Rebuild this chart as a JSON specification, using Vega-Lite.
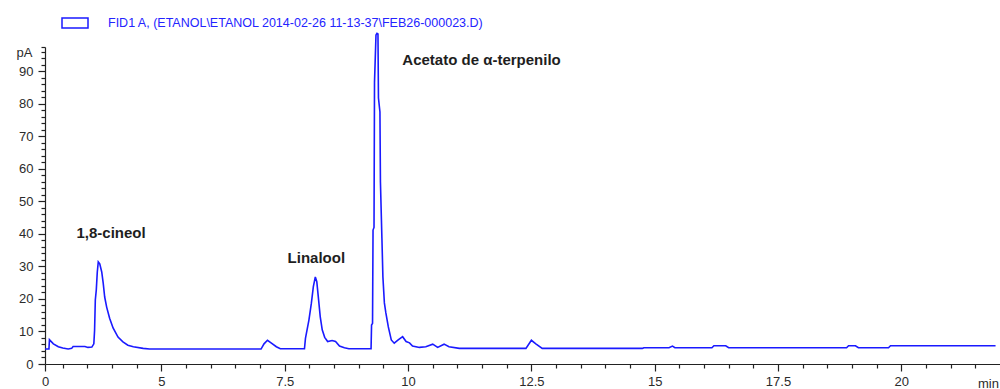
{
  "$schema": "https://vega.github.io/schema/vega-lite/v6.json",
  "width": 955,
  "height": 317,
  "autosize": {"type": "none"},
  "padding": {"left": 45, "top": 47, "right": 0, "bottom": 25},
  "background": "white",
  "config": {"view": {"stroke": null}, "font": "Liberation Sans"},
  "datasets": {
    "trace": [
      {"series": "FID1 A,  (ETANOL\\ETANOL 2014-02-26 11-13-37\\FEB26-000023.D)", "t": 2.64, "pA": 4.6},
      {"series": "FID1 A,  (ETANOL\\ETANOL 2014-02-26 11-13-37\\FEB26-000023.D)", "t": 2.72, "pA": 4.6},
      {"series": "FID1 A,  (ETANOL\\ETANOL 2014-02-26 11-13-37\\FEB26-000023.D)", "t": 2.73, "pA": 7.5},
      {"series": "FID1 A,  (ETANOL\\ETANOL 2014-02-26 11-13-37\\FEB26-000023.D)", "t": 2.81, "pA": 6.2},
      {"series": "FID1 A,  (ETANOL\\ETANOL 2014-02-26 11-13-37\\FEB26-000023.D)", "t": 2.91, "pA": 5.3},
      {"series": "FID1 A,  (ETANOL\\ETANOL 2014-02-26 11-13-37\\FEB26-000023.D)", "t": 3.0, "pA": 4.9},
      {"series": "FID1 A,  (ETANOL\\ETANOL 2014-02-26 11-13-37\\FEB26-000023.D)", "t": 3.11, "pA": 4.6},
      {"series": "FID1 A,  (ETANOL\\ETANOL 2014-02-26 11-13-37\\FEB26-000023.D)", "t": 3.18, "pA": 4.8},
      {"series": "FID1 A,  (ETANOL\\ETANOL 2014-02-26 11-13-37\\FEB26-000023.D)", "t": 3.21, "pA": 5.4},
      {"series": "FID1 A,  (ETANOL\\ETANOL 2014-02-26 11-13-37\\FEB26-000023.D)", "t": 3.45, "pA": 5.4},
      {"series": "FID1 A,  (ETANOL\\ETANOL 2014-02-26 11-13-37\\FEB26-000023.D)", "t": 3.51, "pA": 5.1},
      {"series": "FID1 A,  (ETANOL\\ETANOL 2014-02-26 11-13-37\\FEB26-000023.D)", "t": 3.59, "pA": 5.2},
      {"series": "FID1 A,  (ETANOL\\ETANOL 2014-02-26 11-13-37\\FEB26-000023.D)", "t": 3.63, "pA": 6.2},
      {"series": "FID1 A,  (ETANOL\\ETANOL 2014-02-26 11-13-37\\FEB26-000023.D)", "t": 3.645, "pA": 10.3},
      {"series": "FID1 A,  (ETANOL\\ETANOL 2014-02-26 11-13-37\\FEB26-000023.D)", "t": 3.66, "pA": 19.7},
      {"series": "FID1 A,  (ETANOL\\ETANOL 2014-02-26 11-13-37\\FEB26-000023.D)", "t": 3.68, "pA": 22.8},
      {"series": "FID1 A,  (ETANOL\\ETANOL 2014-02-26 11-13-37\\FEB26-000023.D)", "t": 3.7, "pA": 28.3},
      {"series": "FID1 A,  (ETANOL\\ETANOL 2014-02-26 11-13-37\\FEB26-000023.D)", "t": 3.72, "pA": 31.4},
      {"series": "FID1 A,  (ETANOL\\ETANOL 2014-02-26 11-13-37\\FEB26-000023.D)", "t": 3.75, "pA": 30.8},
      {"series": "FID1 A,  (ETANOL\\ETANOL 2014-02-26 11-13-37\\FEB26-000023.D)", "t": 3.79, "pA": 28.3},
      {"series": "FID1 A,  (ETANOL\\ETANOL 2014-02-26 11-13-37\\FEB26-000023.D)", "t": 3.82, "pA": 24.9},
      {"series": "FID1 A,  (ETANOL\\ETANOL 2014-02-26 11-13-37\\FEB26-000023.D)", "t": 3.85, "pA": 20.6},
      {"series": "FID1 A,  (ETANOL\\ETANOL 2014-02-26 11-13-37\\FEB26-000023.D)", "t": 3.89, "pA": 17.5},
      {"series": "FID1 A,  (ETANOL\\ETANOL 2014-02-26 11-13-37\\FEB26-000023.D)", "t": 3.95, "pA": 14.1},
      {"series": "FID1 A,  (ETANOL\\ETANOL 2014-02-26 11-13-37\\FEB26-000023.D)", "t": 4.02, "pA": 11.1},
      {"series": "FID1 A,  (ETANOL\\ETANOL 2014-02-26 11-13-37\\FEB26-000023.D)", "t": 4.12, "pA": 8.3},
      {"series": "FID1 A,  (ETANOL\\ETANOL 2014-02-26 11-13-37\\FEB26-000023.D)", "t": 4.22, "pA": 6.8},
      {"series": "FID1 A,  (ETANOL\\ETANOL 2014-02-26 11-13-37\\FEB26-000023.D)", "t": 4.32, "pA": 5.8},
      {"series": "FID1 A,  (ETANOL\\ETANOL 2014-02-26 11-13-37\\FEB26-000023.D)", "t": 4.43, "pA": 5.3},
      {"series": "FID1 A,  (ETANOL\\ETANOL 2014-02-26 11-13-37\\FEB26-000023.D)", "t": 4.63, "pA": 4.8},
      {"series": "FID1 A,  (ETANOL\\ETANOL 2014-02-26 11-13-37\\FEB26-000023.D)", "t": 4.76, "pA": 4.6},
      {"series": "FID1 A,  (ETANOL\\ETANOL 2014-02-26 11-13-37\\FEB26-000023.D)", "t": 7.02, "pA": 4.6},
      {"series": "FID1 A,  (ETANOL\\ETANOL 2014-02-26 11-13-37\\FEB26-000023.D)", "t": 7.08, "pA": 6.2},
      {"series": "FID1 A,  (ETANOL\\ETANOL 2014-02-26 11-13-37\\FEB26-000023.D)", "t": 7.15, "pA": 7.3},
      {"series": "FID1 A,  (ETANOL\\ETANOL 2014-02-26 11-13-37\\FEB26-000023.D)", "t": 7.23, "pA": 6.4},
      {"series": "FID1 A,  (ETANOL\\ETANOL 2014-02-26 11-13-37\\FEB26-000023.D)", "t": 7.33, "pA": 5.3},
      {"series": "FID1 A,  (ETANOL\\ETANOL 2014-02-26 11-13-37\\FEB26-000023.D)", "t": 7.41, "pA": 4.7},
      {"series": "FID1 A,  (ETANOL\\ETANOL 2014-02-26 11-13-37\\FEB26-000023.D)", "t": 7.9, "pA": 4.7},
      {"series": "FID1 A,  (ETANOL\\ETANOL 2014-02-26 11-13-37\\FEB26-000023.D)", "t": 7.92, "pA": 7.9},
      {"series": "FID1 A,  (ETANOL\\ETANOL 2014-02-26 11-13-37\\FEB26-000023.D)", "t": 7.99, "pA": 13.5},
      {"series": "FID1 A,  (ETANOL\\ETANOL 2014-02-26 11-13-37\\FEB26-000023.D)", "t": 8.04, "pA": 18.7},
      {"series": "FID1 A,  (ETANOL\\ETANOL 2014-02-26 11-13-37\\FEB26-000023.D)", "t": 8.08, "pA": 23.8},
      {"series": "FID1 A,  (ETANOL\\ETANOL 2014-02-26 11-13-37\\FEB26-000023.D)", "t": 8.12, "pA": 26.8},
      {"series": "FID1 A,  (ETANOL\\ETANOL 2014-02-26 11-13-37\\FEB26-000023.D)", "t": 8.15, "pA": 25.3},
      {"series": "FID1 A,  (ETANOL\\ETANOL 2014-02-26 11-13-37\\FEB26-000023.D)", "t": 8.18, "pA": 20.7},
      {"series": "FID1 A,  (ETANOL\\ETANOL 2014-02-26 11-13-37\\FEB26-000023.D)", "t": 8.22, "pA": 14.5},
      {"series": "FID1 A,  (ETANOL\\ETANOL 2014-02-26 11-13-37\\FEB26-000023.D)", "t": 8.26, "pA": 10.5},
      {"series": "FID1 A,  (ETANOL\\ETANOL 2014-02-26 11-13-37\\FEB26-000023.D)", "t": 8.31, "pA": 8.2},
      {"series": "FID1 A,  (ETANOL\\ETANOL 2014-02-26 11-13-37\\FEB26-000023.D)", "t": 8.37, "pA": 6.9},
      {"series": "FID1 A,  (ETANOL\\ETANOL 2014-02-26 11-13-37\\FEB26-000023.D)", "t": 8.46, "pA": 7.2},
      {"series": "FID1 A,  (ETANOL\\ETANOL 2014-02-26 11-13-37\\FEB26-000023.D)", "t": 8.53, "pA": 6.9},
      {"series": "FID1 A,  (ETANOL\\ETANOL 2014-02-26 11-13-37\\FEB26-000023.D)", "t": 8.61, "pA": 5.5},
      {"series": "FID1 A,  (ETANOL\\ETANOL 2014-02-26 11-13-37\\FEB26-000023.D)", "t": 8.71, "pA": 5.0},
      {"series": "FID1 A,  (ETANOL\\ETANOL 2014-02-26 11-13-37\\FEB26-000023.D)", "t": 8.8, "pA": 4.7},
      {"series": "FID1 A,  (ETANOL\\ETANOL 2014-02-26 11-13-37\\FEB26-000023.D)", "t": 9.25, "pA": 4.7},
      {"series": "FID1 A,  (ETANOL\\ETANOL 2014-02-26 11-13-37\\FEB26-000023.D)", "t": 9.26, "pA": 12.0},
      {"series": "FID1 A,  (ETANOL\\ETANOL 2014-02-26 11-13-37\\FEB26-000023.D)", "t": 9.28, "pA": 12.5},
      {"series": "FID1 A,  (ETANOL\\ETANOL 2014-02-26 11-13-37\\FEB26-000023.D)", "t": 9.29, "pA": 41.2},
      {"series": "FID1 A,  (ETANOL\\ETANOL 2014-02-26 11-13-37\\FEB26-000023.D)", "t": 9.31, "pA": 42.0},
      {"series": "FID1 A,  (ETANOL\\ETANOL 2014-02-26 11-13-37\\FEB26-000023.D)", "t": 9.32, "pA": 86.7},
      {"series": "FID1 A,  (ETANOL\\ETANOL 2014-02-26 11-13-37\\FEB26-000023.D)", "t": 9.35, "pA": 101.2},
      {"series": "FID1 A,  (ETANOL\\ETANOL 2014-02-26 11-13-37\\FEB26-000023.D)", "t": 9.37, "pA": 101.7},
      {"series": "FID1 A,  (ETANOL\\ETANOL 2014-02-26 11-13-37\\FEB26-000023.D)", "t": 9.39, "pA": 101.5},
      {"series": "FID1 A,  (ETANOL\\ETANOL 2014-02-26 11-13-37\\FEB26-000023.D)", "t": 9.4, "pA": 81.8},
      {"series": "FID1 A,  (ETANOL\\ETANOL 2014-02-26 11-13-37\\FEB26-000023.D)", "t": 9.43, "pA": 77.5},
      {"series": "FID1 A,  (ETANOL\\ETANOL 2014-02-26 11-13-37\\FEB26-000023.D)", "t": 9.44, "pA": 56.0},
      {"series": "FID1 A,  (ETANOL\\ETANOL 2014-02-26 11-13-37\\FEB26-000023.D)", "t": 9.47, "pA": 38.7},
      {"series": "FID1 A,  (ETANOL\\ETANOL 2014-02-26 11-13-37\\FEB26-000023.D)", "t": 9.49, "pA": 26.8},
      {"series": "FID1 A,  (ETANOL\\ETANOL 2014-02-26 11-13-37\\FEB26-000023.D)", "t": 9.52, "pA": 18.8},
      {"series": "FID1 A,  (ETANOL\\ETANOL 2014-02-26 11-13-37\\FEB26-000023.D)", "t": 9.55, "pA": 15.7},
      {"series": "FID1 A,  (ETANOL\\ETANOL 2014-02-26 11-13-37\\FEB26-000023.D)", "t": 9.6, "pA": 11.4},
      {"series": "FID1 A,  (ETANOL\\ETANOL 2014-02-26 11-13-37\\FEB26-000023.D)", "t": 9.66, "pA": 7.4},
      {"series": "FID1 A,  (ETANOL\\ETANOL 2014-02-26 11-13-37\\FEB26-000023.D)", "t": 9.72, "pA": 6.4},
      {"series": "FID1 A,  (ETANOL\\ETANOL 2014-02-26 11-13-37\\FEB26-000023.D)", "t": 9.8, "pA": 7.4},
      {"series": "FID1 A,  (ETANOL\\ETANOL 2014-02-26 11-13-37\\FEB26-000023.D)", "t": 9.89, "pA": 8.4},
      {"series": "FID1 A,  (ETANOL\\ETANOL 2014-02-26 11-13-37\\FEB26-000023.D)", "t": 9.96, "pA": 6.9},
      {"series": "FID1 A,  (ETANOL\\ETANOL 2014-02-26 11-13-37\\FEB26-000023.D)", "t": 10.03, "pA": 6.5},
      {"series": "FID1 A,  (ETANOL\\ETANOL 2014-02-26 11-13-37\\FEB26-000023.D)", "t": 10.09, "pA": 5.5},
      {"series": "FID1 A,  (ETANOL\\ETANOL 2014-02-26 11-13-37\\FEB26-000023.D)", "t": 10.23, "pA": 5.1},
      {"series": "FID1 A,  (ETANOL\\ETANOL 2014-02-26 11-13-37\\FEB26-000023.D)", "t": 10.36, "pA": 5.3},
      {"series": "FID1 A,  (ETANOL\\ETANOL 2014-02-26 11-13-37\\FEB26-000023.D)", "t": 10.5, "pA": 6.1},
      {"series": "FID1 A,  (ETANOL\\ETANOL 2014-02-26 11-13-37\\FEB26-000023.D)", "t": 10.6, "pA": 5.1},
      {"series": "FID1 A,  (ETANOL\\ETANOL 2014-02-26 11-13-37\\FEB26-000023.D)", "t": 10.73, "pA": 6.1},
      {"series": "FID1 A,  (ETANOL\\ETANOL 2014-02-26 11-13-37\\FEB26-000023.D)", "t": 10.83, "pA": 5.3},
      {"series": "FID1 A,  (ETANOL\\ETANOL 2014-02-26 11-13-37\\FEB26-000023.D)", "t": 11.04, "pA": 4.8},
      {"series": "FID1 A,  (ETANOL\\ETANOL 2014-02-26 11-13-37\\FEB26-000023.D)", "t": 12.39, "pA": 4.8},
      {"series": "FID1 A,  (ETANOL\\ETANOL 2014-02-26 11-13-37\\FEB26-000023.D)", "t": 12.5, "pA": 7.3},
      {"series": "FID1 A,  (ETANOL\\ETANOL 2014-02-26 11-13-37\\FEB26-000023.D)", "t": 12.59, "pA": 6.2},
      {"series": "FID1 A,  (ETANOL\\ETANOL 2014-02-26 11-13-37\\FEB26-000023.D)", "t": 12.72, "pA": 4.8},
      {"series": "FID1 A,  (ETANOL\\ETANOL 2014-02-26 11-13-37\\FEB26-000023.D)", "t": 14.75, "pA": 4.8},
      {"series": "FID1 A,  (ETANOL\\ETANOL 2014-02-26 11-13-37\\FEB26-000023.D)", "t": 14.78, "pA": 5.0},
      {"series": "FID1 A,  (ETANOL\\ETANOL 2014-02-26 11-13-37\\FEB26-000023.D)", "t": 15.29, "pA": 5.0},
      {"series": "FID1 A,  (ETANOL\\ETANOL 2014-02-26 11-13-37\\FEB26-000023.D)", "t": 15.36, "pA": 5.5},
      {"series": "FID1 A,  (ETANOL\\ETANOL 2014-02-26 11-13-37\\FEB26-000023.D)", "t": 15.41, "pA": 5.0},
      {"series": "FID1 A,  (ETANOL\\ETANOL 2014-02-26 11-13-37\\FEB26-000023.D)", "t": 16.16, "pA": 5.0},
      {"series": "FID1 A,  (ETANOL\\ETANOL 2014-02-26 11-13-37\\FEB26-000023.D)", "t": 16.2, "pA": 5.6},
      {"series": "FID1 A,  (ETANOL\\ETANOL 2014-02-26 11-13-37\\FEB26-000023.D)", "t": 16.44, "pA": 5.6},
      {"series": "FID1 A,  (ETANOL\\ETANOL 2014-02-26 11-13-37\\FEB26-000023.D)", "t": 16.5, "pA": 5.0},
      {"series": "FID1 A,  (ETANOL\\ETANOL 2014-02-26 11-13-37\\FEB26-000023.D)", "t": 18.89, "pA": 5.0},
      {"series": "FID1 A,  (ETANOL\\ETANOL 2014-02-26 11-13-37\\FEB26-000023.D)", "t": 18.93, "pA": 5.6},
      {"series": "FID1 A,  (ETANOL\\ETANOL 2014-02-26 11-13-37\\FEB26-000023.D)", "t": 19.07, "pA": 5.6},
      {"series": "FID1 A,  (ETANOL\\ETANOL 2014-02-26 11-13-37\\FEB26-000023.D)", "t": 19.13, "pA": 5.0},
      {"series": "FID1 A,  (ETANOL\\ETANOL 2014-02-26 11-13-37\\FEB26-000023.D)", "t": 19.74, "pA": 5.0},
      {"series": "FID1 A,  (ETANOL\\ETANOL 2014-02-26 11-13-37\\FEB26-000023.D)", "t": 19.78, "pA": 5.6},
      {"series": "FID1 A,  (ETANOL\\ETANOL 2014-02-26 11-13-37\\FEB26-000023.D)", "t": 21.91, "pA": 5.6}
    ],
    "labels": [
      {"label": "1,8-cineol", "t": 3.98, "pA": 40.3},
      {"label": "Linalool", "t": 8.14, "pA": 32.5},
      {"label": "Acetato de α-terpenilo", "t": 11.49, "pA": 93.5}
    ]
  },
  "resolve": {"axis": {"x": "independent", "y": "independent"}},
  "layer": [
    {
      "data": {"name": "trace"},
      "mark": {"type": "line", "strokeWidth": 1.6, "clip": false},
      "encoding": {
        "x": {
          "field": "t",
          "type": "quantitative",
          "scale": {"domain": [2.64, 22], "nice": false, "zero": false},
          "axis": {
            "orient": "bottom",
            "values": [2.64, 5, 7.5, 10, 12.5, 15, 17.5, 20],
            "labelExpr": "datum.value < 2.7 ? '0' : toString(datum.value)",
            "tickSize": 7,
            "labelPadding": 4,
            "labelFlush": false,
            "labelOverlap": false,
            "grid": false,
            "domainColor": "#222222",
            "tickColor": "#222222",
            "domainWidth": 1.2,
            "tickWidth": 1.2,
            "labelColor": "#2b2b2b",
            "labelFontSize": 13,
            "labelFont": "Liberation Sans",
            "title": "min",
            "titleX": 943,
            "titleY": 19,
            "titleAlign": "center",
            "titleBaseline": "middle",
            "titleFontWeight": "normal",
            "titleFontSize": 13,
            "titleFont": "Liberation Sans",
            "titleColor": "#2b2b2b"
          }
        },
        "y": {
          "field": "pA",
          "type": "quantitative",
          "scale": {"domain": [0, 97.5], "nice": false, "zero": true},
          "axis": {
            "orient": "left",
            "values": [0, 10, 20, 30, 40, 50, 60, 70, 80, 90],
            "labelExpr": "toString(datum.value)",
            "tickSize": 7,
            "labelPadding": 5,
            "labelOverlap": false,
            "labelFlush": false,
            "grid": false,
            "domainColor": "#222222",
            "tickColor": "#222222",
            "domainWidth": 1.2,
            "tickWidth": 1.2,
            "labelColor": "#2b2b2b",
            "labelFontSize": 13,
            "labelFont": "Liberation Sans",
            "title": "pA",
            "titleAngle": 0,
            "titleX": -13,
            "titleY": 5,
            "titleAlign": "right",
            "titleBaseline": "middle",
            "titleFontWeight": "normal",
            "titleFontSize": 13,
            "titleFont": "Liberation Sans",
            "titleColor": "#2b2b2b"
          }
        },
        "color": {
          "field": "series",
          "type": "nominal",
          "scale": {"range": ["#1a1aff"]},
          "legend": {
            "orient": "none",
            "legendX": 16,
            "legendY": -38,
            "title": null,
            "padding": 0,
            "symbolType": "M-1,-0.385H1V0.385H-1Z",
            "symbolSize": 676,
            "symbolStrokeColor": "#1a1aff",
            "symbolStrokeWidth": 1.5,
            "symbolFillColor": "transparent",
            "labelColor": "#2424ff",
            "labelFontSize": 12.5,
            "labelFont": "Liberation Sans",
            "labelLimit": 800,
            "labelOffset": 19
          }
        }
      }
    },
    {
      "data": {"name": "labels"},
      "mark": {"type": "text", "fontWeight": "bold", "fontSize": 15, "font": "Liberation Sans", "color": "#1e1e1e", "align": "center", "baseline": "middle"},
      "encoding": {
        "x": {
          "field": "t",
          "type": "quantitative",
          "axis": {
            "orient": "bottom",
            "values": [3, 3.5, 4, 4.5, 5.5, 6, 6.5, 7, 8, 8.5, 9, 9.5, 10.5, 11, 11.5, 12, 13, 13.5, 14, 14.5, 15.5, 16, 16.5, 17, 18, 18.5, 19, 19.5, 20.5, 21, 21.5],
            "labels": false,
            "domain": false,
            "grid": false,
            "title": null,
            "tickSize": 4,
            "tickColor": "#222222",
            "tickWidth": 1.2
          }
        },
        "y": {
          "field": "pA",
          "type": "quantitative",
          "axis": {
            "orient": "left",
            "values": [2, 4, 6, 8, 12, 14, 16, 18, 22, 24, 26, 28, 32, 34, 36, 38, 42, 44, 46, 48, 52, 54, 56, 58, 62, 64, 66, 68, 72, 74, 76, 78, 82, 84, 86, 88, 92, 94, 96, 97.5],
            "labels": false,
            "domain": false,
            "grid": false,
            "title": null,
            "tickSize": 4,
            "tickColor": "#222222",
            "tickWidth": 1.2
          }
        },
        "text": {"field": "label", "type": "nominal"}
      }
    }
  ]
}
